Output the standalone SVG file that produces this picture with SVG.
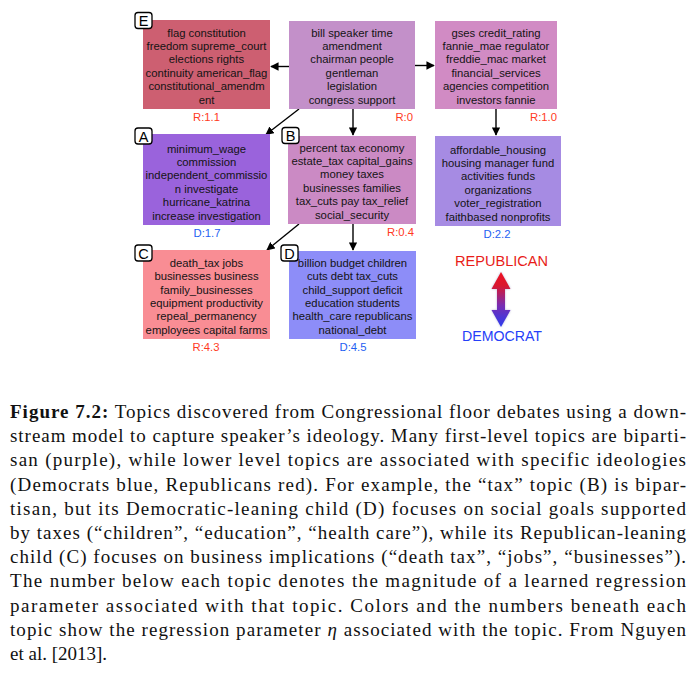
<svg xmlns="http://www.w3.org/2000/svg" width="697" height="674" viewBox="0 0 697 674">
<style>
.bg{fill:#ffffff}
.t{font-family:"Liberation Sans",Arial,sans-serif;font-size:11.3px;fill:#141414;text-anchor:middle}
.r{font-family:"Liberation Sans",Arial,sans-serif;font-size:11.3px;fill:#ff3a1e}
.d{font-family:"Liberation Sans",Arial,sans-serif;font-size:11.3px;fill:#1f5ff2}
.lb{fill:#ffffff;stroke:#000000;stroke-width:1.3}
.lt{font-family:"Liberation Sans",Arial,sans-serif;font-size:14.5px;fill:#000;text-anchor:middle}
.c{stroke:#000;stroke-width:1.4;fill:none;marker-end:url(#ah)}
.cap{font-family:"Liberation Serif","Times New Roman",serif;font-size:19px;fill:#111}
</style>
<defs>
<marker id="ah" viewBox="0 0 10 10" refX="9" refY="5" markerWidth="6" markerHeight="6" markerUnits="strokeWidth" orient="auto">
<path d="M0,0 L10,5 L0,10 z" fill="#000"/>
</marker>
<linearGradient id="gr" x1="0" y1="0" x2="0" y2="1">
<stop offset="0" stop-color="#f01020"/>
<stop offset="0.25" stop-color="#d81830"/>
<stop offset="0.6" stop-color="#7a2cb0"/>
<stop offset="1" stop-color="#2b3cf0"/>
</linearGradient>
<filter id="sh" x="-50%" y="-20%" width="200%" height="140%">
<feGaussianBlur stdDeviation="1.2"/>
</filter>
</defs>
<rect class="bg" x="0" y="0" width="697" height="674"/>

<g id="connectors">
<line class="c" x1="289" y1="66.5" x2="271" y2="66.5"/>
<line class="c" x1="415" y1="65.5" x2="434" y2="65.5"/>
<line class="c" x1="299" y1="109" x2="266" y2="134.5"/>
<line class="c" x1="353" y1="109" x2="353" y2="135"/>
<line class="c" x1="496" y1="109" x2="496" y2="135"/>
<line class="c" x1="299" y1="224" x2="267" y2="250"/>
<line class="c" x1="353" y1="224" x2="353" y2="250"/>
</g>

<g id="nodeE">
<rect x="143" y="20" width="127" height="89" fill="#cd5f71"/>
<text class="t" x="206.5" y="36.5">flag constitution</text>
<text class="t" x="206.5" y="49.9">freedom supreme_court</text>
<text class="t" x="206.5" y="63.3">elections rights</text>
<text class="t" x="206.5" y="76.7">continuity american_flag</text>
<text class="t" x="206.5" y="90.1">constitutional_amendm</text>
<text class="t" x="206.5" y="103.5">ent</text>
<text class="r" x="206.5" y="121" text-anchor="middle">R:1.1</text>
<rect class="lb" x="135" y="12.5" width="17" height="16" rx="3"/>
<text class="lt" x="143.5" y="26">E</text>
</g>

<g id="nodeRoot">
<rect x="289" y="21" width="126" height="88" fill="#c390c9"/>
<text class="t" x="352" y="36.5">bill speaker time</text>
<text class="t" x="352" y="49.9">amendment</text>
<text class="t" x="352" y="63.3">chairman people</text>
<text class="t" x="352" y="76.7">gentleman</text>
<text class="t" x="352" y="90.1">legislation</text>
<text class="t" x="352" y="103.5">congress support</text>
<text class="r" x="413" y="121" text-anchor="end">R:0</text>
</g>

<g id="nodeGses">
<rect x="435" y="21" width="122" height="88" fill="#d18bc4"/>
<text class="t" x="496" y="36.5">gses credit_rating</text>
<text class="t" x="496" y="49.9">fannie_mae regulator</text>
<text class="t" x="496" y="63.3">freddie_mac market</text>
<text class="t" x="496" y="76.7">financial_services</text>
<text class="t" x="496" y="90.1">agencies competition</text>
<text class="t" x="496" y="103.5">investors fannie</text>
<text class="r" x="557" y="121" text-anchor="end">R:1.0</text>
</g>

<g id="nodeA">
<rect x="143" y="134" width="127" height="91" fill="#9a63dc"/>
<text class="t" x="206.5" y="152.5">minimum_wage</text>
<text class="t" x="206.5" y="165.9">commission</text>
<text class="t" x="206.5" y="179.3">independent_commissio</text>
<text class="t" x="206.5" y="192.7">n investigate</text>
<text class="t" x="206.5" y="206.1">hurricane_katrina</text>
<text class="t" x="206.5" y="219.5">increase investigation</text>
<text class="d" x="207" y="237" text-anchor="middle">D:1.7</text>
<rect class="lb" x="135" y="128" width="17" height="16" rx="3"/>
<text class="lt" x="143.5" y="141.5">A</text>
</g>

<g id="nodeB">
<rect x="288" y="136" width="128" height="88" fill="#cb8ac4"/>
<text class="t" x="352" y="151.5">percent tax economy</text>
<text class="t" x="352" y="164.9">estate_tax capital_gains</text>
<text class="t" x="352" y="178.3">money taxes</text>
<text class="t" x="352" y="191.7">businesses families</text>
<text class="t" x="352" y="205.1">tax_cuts pay tax_relief</text>
<text class="t" x="352" y="218.5">social_security</text>
<text class="r" x="414" y="236" text-anchor="end">R:0.4</text>
<rect class="lb" x="282" y="127.5" width="17" height="16" rx="3"/>
<text class="lt" x="290.5" y="141">B</text>
</g>

<g id="nodeHousing">
<rect x="435" y="136" width="126" height="90" fill="#a68be3"/>
<text class="t" x="498" y="153.5">affordable_housing</text>
<text class="t" x="498" y="166.9">housing manager fund</text>
<text class="t" x="498" y="180.3">activities funds</text>
<text class="t" x="498" y="193.7">organizations</text>
<text class="t" x="498" y="207.1">voter_registration</text>
<text class="t" x="498" y="220.5">faithbased nonprofits</text>
<text class="d" x="497" y="238" text-anchor="middle">D:2.2</text>
</g>

<g id="nodeC">
<rect x="143" y="250" width="127" height="89" fill="#f98d94"/>
<text class="t" x="206.5" y="266.8">death_tax jobs</text>
<text class="t" x="206.5" y="280.2">businesses business</text>
<text class="t" x="206.5" y="293.6">family_businesses</text>
<text class="t" x="206.5" y="307">equipment productivity</text>
<text class="t" x="206.5" y="320.4">repeal_permanency</text>
<text class="t" x="206.5" y="333.8">employees capital farms</text>
<text class="r" x="206" y="351" text-anchor="middle">R:4.3</text>
<rect class="lb" x="135" y="245" width="17" height="16" rx="3"/>
<text class="lt" x="143.5" y="258.5">C</text>
</g>

<g id="nodeD">
<rect x="289" y="251" width="127" height="88" fill="#8d8df8"/>
<text class="t" x="352.5" y="266.8">billion budget children</text>
<text class="t" x="352.5" y="280.2">cuts debt tax_cuts</text>
<text class="t" x="352.5" y="293.6">child_support deficit</text>
<text class="t" x="352.5" y="307">education students</text>
<text class="t" x="352.5" y="320.4">health_care republicans</text>
<text class="t" x="352.5" y="333.8">national_debt</text>
<text class="d" x="353" y="351" text-anchor="middle">D:4.5</text>
<rect class="lb" x="281" y="245" width="17" height="16" rx="3"/>
<text class="lt" x="289.5" y="258.5">D</text>
</g>

<g id="legend">
<text x="501.5" y="266" font-family="'Liberation Sans',Arial,sans-serif" font-size="14" fill="#e81c18" text-anchor="middle" textLength="93" lengthAdjust="spacingAndGlyphs">REPUBLICAN</text>
<path d="M501,272 L510.5,289 L505,289 L505,310 L510.5,310 L501,327 L491.5,310 L497,310 L497,289 L491.5,289 Z" fill="#8a8ac0" opacity="0.6" filter="url(#sh)"/>
<path d="M501,272 L510.5,289 L505,289 L505,310 L510.5,310 L501,327 L491.5,310 L497,310 L497,289 L491.5,289 Z" fill="url(#gr)"/>
<text x="502" y="341" font-family="'Liberation Sans',Arial,sans-serif" font-size="14" fill="#2540f8" text-anchor="middle" textLength="80" lengthAdjust="spacingAndGlyphs">DEMOCRAT</text>
</g>

<g id="caption">
<text class="cap" x="10" y="418" textLength="676" lengthAdjust="spacing"><tspan font-weight="bold">Figure 7.2:</tspan> Topics discovered from Congressional floor debates using a down-</text>
<text class="cap" x="10" y="442.2" textLength="676" lengthAdjust="spacing">stream model to capture speaker’s ideology. Many first-level topics are biparti-</text>
<text class="cap" x="10" y="466.4" textLength="676" lengthAdjust="spacing">san (purple), while lower level topics are associated with specific ideologies</text>
<text class="cap" x="10" y="490.6" textLength="676" lengthAdjust="spacing">(Democrats blue, Republicans red). For example, the “tax” topic (B) is bipar-</text>
<text class="cap" x="10" y="514.8" textLength="676" lengthAdjust="spacing">tisan, but its Democratic-leaning child (D) focuses on social goals supported</text>
<text class="cap" x="10" y="539" textLength="676" lengthAdjust="spacing">by taxes (“children”, “education”, “health care”), while its Republican-leaning</text>
<text class="cap" x="10" y="563.2" textLength="676" lengthAdjust="spacing">child (C) focuses on business implications (“death tax”, “jobs”, “businesses”).</text>
<text class="cap" x="10" y="587.4" textLength="676" lengthAdjust="spacing">The number below each topic denotes the magnitude of a learned regression</text>
<text class="cap" x="10" y="611.6" textLength="676" lengthAdjust="spacing">parameter associated with that topic. Colors and the numbers beneath each</text>
<text class="cap" x="10" y="635.8" textLength="676" lengthAdjust="spacing">topic show the regression parameter <tspan font-style="italic">η</tspan> associated with the topic. From Nguyen</text>
<text class="cap" x="10" y="660">et al. [2013].</text>
</g>
</svg>
